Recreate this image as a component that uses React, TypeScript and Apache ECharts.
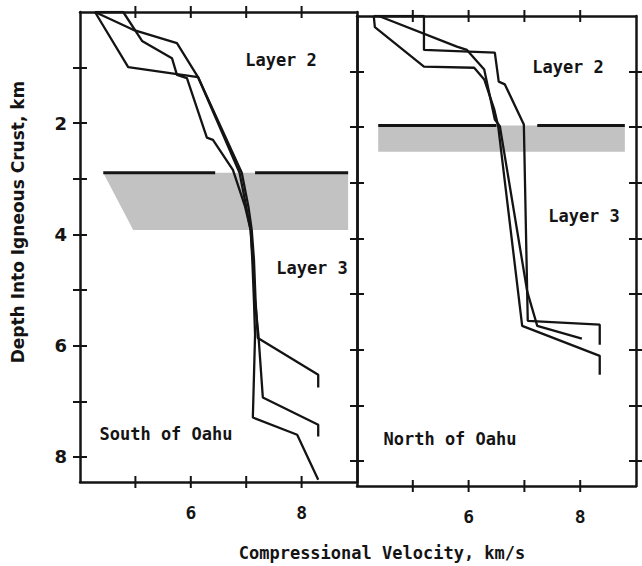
import React, { useEffect, useRef } from "react";
import * as echarts from "echarts";

// ---- data ----
const xTickValues = [5, 6, 7, 8];
const xLabelValues = [6, 8];
const yTickValues = [1, 2, 3, 4, 5, 6, 7, 8];
const yLabelValues = [2, 4, 6, 8];
const depthMax = 8.45;

// South of Oahu profiles: [velocity km/s, depth km]
const south1 = [[4.27, 0], [4.87, 0.99], [6.13, 1.17], [6.88, 2.89], [7.0, 3.5], [7.08, 3.92], [7.11, 4.45], [7.14, 5.2], [7.16, 5.8], [7.12, 7.29], [7.92, 7.6], [8.3, 8.41]];
const south2 = [[4.27, 0], [4.78, 0], [5.12, 0.52], [5.66, 0.83], [5.75, 1.13], [5.93, 1.19], [6.29, 2.26], [6.4, 2.3], [6.76, 2.84], [6.98, 3.5], [7.08, 3.92], [7.12, 4.45], [7.16, 5.2], [7.22, 5.8], [7.3, 6.93], [8.3, 7.42], [8.3, 7.63]];
const south3 = [[4.27, 0], [4.96, 0.32], [5.75, 0.56], [6.13, 1.17], [6.92, 2.89], [7.04, 3.5], [7.1, 3.92], [7.14, 4.45], [7.17, 5.2], [7.21, 5.86], [8.3, 6.52], [8.3, 6.75]];

// North of Oahu profiles
const north1 = [[4.3, 0], [4.32, 0.2], [5.2, 0.91], [6.1, 0.93], [6.28, 1.14], [6.46, 1.68], [6.53, 1.98], [6.96, 5.57], [8.35, 6.11], [8.35, 6.45]];
const north2 = [[4.39, 0], [5.79, 0.55], [5.97, 0.61], [6.28, 0.96], [6.47, 1.86], [6.56, 1.98], [7.05, 4.95], [7.23, 5.57], [8.03, 5.8]];
const north3 = [[4.3, 0], [5.2, 0], [5.2, 0.61], [6.47, 0.66], [6.54, 1.18], [6.65, 1.23], [6.99, 1.95], [7.06, 5.48], [8.35, 5.55], [8.35, 5.91]];

// Layer 2 / Layer 3 transition zones (shaded)
const southZone = [[4.42, 2.89], [8.84, 2.89], [8.84, 3.92], [4.96, 3.92]];
const southZoneEdge = [[[4.42, 2.89], [6.44, 2.89]], [[7.16, 2.89], [8.84, 2.89]]];
const northZone = [[4.38, 1.97], [8.8, 1.97], [8.8, 2.44], [4.38, 2.44]];
const northZoneEdge = [[[4.38, 1.97], [6.5, 1.97]], [[7.23, 1.97], [8.8, 1.97]]];

const INK = "#141414";
const MONO = '"DejaVu Sans Mono", monospace';
const SANS = '"DejaVu Sans", sans-serif';

function buildAxes(gridIndex: number, isLeft: boolean) {
  const xBase = {
    type: "value", gridIndex, min: 4, max: 9, interval: 1,
    splitLine: { show: false },
  };
  const yBase = {
    type: "value", gridIndex, min: 0, max: depthMax, interval: 1, inverse: true,
    splitLine: { show: false },
  };
  const line = { show: true, onZero: false, lineStyle: { color: INK, width: 2.5 } };
  const noLine = { show: false, onZero: false };
  const yt = (inside: boolean, show = true) => ({ show, inside, length: 7, customValues: yTickValues, lineStyle: { color: INK, width: 2 } });
  const noLabel = { show: false };
  const xAxes = [
    { ...xBase, position: "bottom", axisLine: line, axisTick: { show: false },
      axisLabel: { show: true, customValues: xLabelValues, margin: 21, fontSize: 18, fontWeight: "bold", fontFamily: MONO, color: INK } },
    { ...xBase, position: "top", axisLine: line, axisTick: { show: false }, axisLabel: noLabel },
  ];
  const yAxes = [
    { ...yBase, position: "left", axisLine: line, axisTick: yt(false),
      axisLabel: isLeft
        ? { show: true, customValues: yLabelValues, margin: 13, fontSize: 18, fontWeight: "bold", fontFamily: SANS, color: INK }
        : noLabel },
    { ...yBase, position: "left", axisLine: noLine, axisTick: yt(true), axisLabel: noLabel },
    { ...yBase, position: "right", axisLine: line, axisTick: yt(false, !isLeft), axisLabel: noLabel },
    { ...yBase, position: "right", axisLine: noLine, axisTick: yt(true, !isLeft), axisLabel: noLabel },
  ];
  return { xAxes, yAxes };
}

// shaded zone + its heavy top edge + the velocity tick marks on the frame
function zoneSeries(xIndex: number, yIndex: number, zone: number[][], edges: number[][][]) {
  return {
    type: "custom",
    xAxisIndex: xIndex,
    yAxisIndex: yIndex,
    data: [zone[0]],
    silent: true,
    clip: false,
    renderItem: (_params: any, api: any) => {
      const children: any[] = [
        {
          type: "polygon",
          shape: { points: zone.map((p) => api.coord(p)) },
          style: { fill: "#c2c2c2" },
        },
      ];
      edges.forEach((seg) => {
        const a = api.coord(seg[0]);
        const b = api.coord(seg[1]);
        children.push({
          type: "line",
          shape: { x1: a[0], y1: a[1], x2: b[0], y2: b[1] },
          style: { stroke: INK, lineWidth: 3 },
        });
      });
      xTickValues.forEach((v) => {
        [0, depthMax].forEach((d) => {
          const c = api.coord([v, d]);
          children.push({
            type: "polygon",
            shape: {
              points: [
                [c[0] - 1, c[1] - 6],
                [c[0] + 1, c[1] - 6],
                [c[0] + 1, c[1] + 6],
                [c[0] - 1, c[1] + 6],
              ],
            },
            style: { fill: INK },
          });
        });
      });
      return { type: "group", children };
    },
  };
}

function profileSeries(xIndex: number, yIndex: number, data: number[][]) {
  return {
    type: "line",
    xAxisIndex: xIndex,
    yAxisIndex: yIndex,
    data,
    symbol: "none",
    silent: true,
    lineStyle: { color: INK, width: 2.3 },
  };
}

function txt(text: string, x: number, y: number, font: string, extra: any = {}) {
  return {
    type: "text",
    x,
    y,
    ...extra,
    style: {
      text,
      textAlign: "center",
      textVerticalAlign: "middle",
      font,
      fill: INK,
    },
  };
}

export default function App() {
  const ref = useRef<HTMLDivElement>(null);
  useEffect(() => {
    if (!ref.current) return;
    const chart = echarts.init(ref.current, undefined, { renderer: "svg" });
    const a0 = buildAxes(0, true);
    const a1 = buildAxes(1, false);
    const monoFont = `bold 17px ${MONO}`;
    // x axes: grid0 -> 0,1 ; grid1 -> 2,3 ; y axes: grid0 -> 0..3 ; grid1 -> 4..7
    chart.setOption({
      animation: false,
      backgroundColor: "#ffffff",
      grid: [
        { left: 80, top: 12, width: 277, height: 470 },
        { left: 357, top: 16, width: 279, height: 470 },
      ],
      xAxis: [...a0.xAxes, ...a1.xAxes],
      yAxis: [...a0.yAxes, ...a1.yAxes],
      series: [
        zoneSeries(0, 0, southZone, southZoneEdge),
        zoneSeries(2, 4, northZone, northZoneEdge),
        profileSeries(0, 0, south1),
        profileSeries(0, 0, south2),
        profileSeries(0, 0, south3),
        profileSeries(2, 4, north1),
        profileSeries(2, 4, north2),
        profileSeries(2, 4, north3),
      ],
      graphic: [
        txt("Layer 2", 281, 60, monoFont),
        txt("Layer 3", 312, 268, monoFont),
        txt("South of Oahu", 166, 434, monoFont),
        txt("Layer 2", 568, 67, monoFont),
        txt("Layer 3", 584, 216, monoFont),
        txt("North of Oahu", 450, 439, monoFont),
        txt("Compressional Velocity, km/s", 382, 553, monoFont),
        txt("Depth Into Igneous Crust, km", 18, 222, `bold 17px ${SANS}`, { rotation: Math.PI / 2 }),
      ],
    });
    return () => chart.dispose();
  }, []);
  return (
    <div
      ref={ref}
      style={{ position: "fixed", left: 0, top: 0, width: 642, height: 566, background: "#fff" }}
    />
  );
}
